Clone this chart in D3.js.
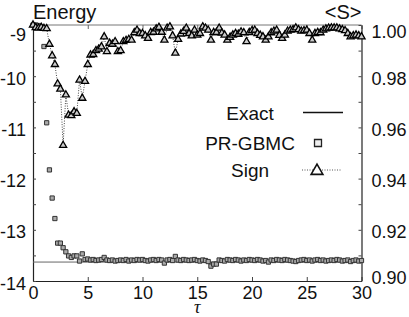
<!DOCTYPE html>
<html><head><meta charset="utf-8">
<script src="https://cdn.jsdelivr.net/npm/d3@7"></script>
<style>
html,body{margin:0;padding:0;background:#fff;}
svg{display:block;font-family:"Liberation Sans",Arial,sans-serif;}
</style></head>
<body><svg id="c" width="409" height="317"></svg>
<script>
// ---- data ----
const tau = [0,0.25,0.5,0.75,1,1.25,1.5,1.75,2,2.25,2.5,2.75,3,3.25,3.5,3.75,4,4.25,4.5,4.75,
5,5.25,5.5,5.75,6,6.25,6.5,6.75,7,7.25,7.5,7.75,8,8.25,8.5,8.75,9,9.25,9.5,9.75,
10,10.25,10.5,10.75,11,11.25,11.5,11.75,12,12.25,12.5,12.75,13,13.25,13.5,13.75,14,14.25,14.5,14.75,
15,15.25,15.5,15.75,16,16.25,16.5,16.75,17,17.25,17.5,17.75,18,18.25,18.5,18.75,19,19.25,19.5,19.75,
20,20.25,20.5,20.75,21,21.25,21.5,21.75,22,22.25,22.5,22.75,23,23.25,23.5,23.75,24,24.25,24.5,24.75,
25,25.25,25.5,25.75,26,26.25,26.5,26.75,27,27.25,27.5,27.75,28,28.25,28.5,28.75,29,29.25,29.5,29.75,30];

const energyPRGBMC = [-9.00,-9.00,-9.01,-9.04,-9.42,-10.91,-11.83,-12.38,-12.78,-13.26,-13.26,-13.35,-13.43,-13.51,-13.54,-13.51,-13.51,-13.61,-13.47,-13.58,
-13.57,-13.59,-13.58,-13.60,-13.59,-13.58,-13.54,-13.59,-13.60,-13.59,-13.61,-13.60,-13.59,-13.60,-13.58,-13.61,-13.59,-13.60,-13.58,-13.59,
-13.58,-13.60,-13.61,-13.59,-13.58,-13.60,-13.58,-13.59,-13.65,-13.59,-13.58,-13.60,-13.52,-13.59,-13.60,-13.58,-13.59,-13.60,-13.59,-13.58,
-13.60,-13.61,-13.59,-13.60,-13.62,-13.71,-13.67,-13.67,-13.59,-13.60,-13.61,-13.58,-13.59,-13.60,-13.58,-13.59,-13.61,-13.59,-13.60,-13.58,
-13.59,-13.60,-13.58,-13.59,-13.61,-13.60,-13.63,-13.59,-13.60,-13.58,-13.59,-13.60,-13.58,-13.59,-13.60,-13.61,-13.62,-13.60,-13.59,-13.58,
-13.60,-13.59,-13.61,-13.59,-13.58,-13.60,-13.59,-13.61,-13.60,-13.59,-13.60,-13.58,-13.59,-13.61,-13.60,-13.59,-13.62,-13.60,-13.59,-13.61,-13.60];

const signS = [1.0000,0.9990,0.9988,0.9991,0.9987,0.9986,0.9925,0.9880,0.9846,0.9770,0.9750,0.9530,0.9727,0.9648,0.9646,0.9661,0.9655,0.9785,0.9714,0.9780,
0.9846,0.9883,0.9885,0.9900,0.9906,0.9915,0.9954,0.9896,0.9929,0.9925,0.9935,0.9896,0.9900,0.9935,0.9940,0.9944,0.9941,0.9970,0.9980,0.9967,
0.9967,0.9958,0.9948,0.9971,0.9972,0.9985,0.9991,0.9972,0.9941,0.9988,0.9993,0.9958,0.9890,0.9944,0.9965,0.9975,0.9988,0.9967,0.9958,0.9980,
0.9961,0.9967,0.9993,0.9988,0.9980,0.9941,0.9971,0.9971,0.9988,0.9969,0.9961,0.9941,0.9952,0.9961,0.9967,0.9964,0.9973,0.9970,0.9935,0.9971,
0.9978,0.9980,0.9967,0.9960,0.9954,0.9941,0.9954,0.9970,0.9976,0.9980,0.9960,0.9948,0.9961,0.9976,0.9980,0.9982,0.9989,0.9982,0.9976,0.9978,
0.9980,0.9967,0.9941,0.9967,0.9971,0.9970,0.9980,0.9985,0.9988,0.9989,0.9989,0.9989,0.9985,0.9982,0.9978,0.9967,0.9954,0.9958,0.9961,0.9958,0.9954];

const exactEnergy = -13.63;

const xTicks = [0,5,10,15,20,25,30];
const yLeftTicks = [-14,-13.5,-13,-12.5,-12,-11.5,-11,-10.5,-10,-9.5,-9];
const yLeftLabels = [-14,-13,-12,-11,-10,-9];
const yRightTicks = [0.90,0.91,0.92,0.93,0.94,0.95,0.96,0.97,0.98,0.99,1.00];
const yRightLabels = [0.90,0.92,0.94,0.96,0.98,1.00];
const legendItems = ["Exact","PR-GBMC","Sign"];

// ---- layout ----
const L = 33, R = 361.5, T = 25, B = 281;
const svg = d3.select("#c");
const x = d3.scaleLinear().domain([0,30]).range([L,R]);
const yE = d3.scaleLinear().domain([-14,-9]).range([B,T]);
const yS = d3.scaleLinear().domain([0.90,1.00]).range([B,T]);

// frame top
svg.append("line").attr("x1",L).attr("x2",R).attr("y1",T).attr("y2",T)
  .attr("stroke","#777").attr("stroke-width",1);

// axes
function styleAxis(g){
  g.select(".domain").attr("stroke","#222").attr("stroke-width",1.2);
  g.selectAll(".tick line").attr("stroke","#444");
  g.selectAll("text").attr("fill","#111").style("font-size","18px").style("font-family","Liberation Sans, Arial, sans-serif");
}
const gB = svg.append("g").attr("transform",`translate(0,${B})`)
  .call(d3.axisBottom(x).tickValues(xTicks).tickSizeInner(-4).tickSizeOuter(0).tickPadding(5).tickFormat(d3.format("d")));
styleAxis(gB);
gB.selectAll("text").attr("dy","0.72em");

const gT = svg.append("g").attr("transform",`translate(0,${T})`)
  .call(d3.axisTop(x).tickValues(xTicks).tickSizeInner(-4).tickSizeOuter(0).tickFormat(""));
gT.select(".domain").remove();
gT.selectAll(".tick line").attr("stroke","#666");

const gL = svg.append("g").attr("transform",`translate(${L},0)`)
  .call(d3.axisLeft(yE).tickValues(yLeftTicks).tickSizeInner(-3).tickSizeOuter(0).tickPadding(7)
    .tickFormat(d => yLeftLabels.includes(d) ? String(d) : ""));
styleAxis(gL);
gL.selectAll("text").attr("dy", d => d === -9 ? "0.85em" : "0.45em");

const gR = svg.append("g").attr("transform",`translate(${R},0)`)
  .call(d3.axisRight(yS).tickValues(yRightTicks).tickSizeInner(-3).tickSizeOuter(0).tickPadding(10)
    .tickFormat(d => yRightLabels.some(v => Math.abs(v-d)<1e-9) ? d3.format(".2f")(d) : ""));
styleAxis(gR);
gR.selectAll("text").attr("dy", d => Math.abs(d-1)<1e-9 ? "0.7em" : (Math.abs(d-0.9)<1e-9 ? "0.15em" : "0.45em"));

// titles
svg.append("text").attr("x",L).attr("y",19).text("Energy")
  .style("font-size","20px").attr("fill","#111");
svg.append("text").attr("x",R).attr("y",19).attr("text-anchor","end").text("<S>")
  .style("font-size","20px").attr("fill","#111");
svg.append("text").attr("x",(L+R)/2).attr("y",312.5).attr("text-anchor","middle").text("τ")
  .style("font-size","18px").style("font-style","italic").style("font-family","Liberation Serif, serif").attr("fill","#111");

// exact line
svg.append("line").attr("x1",L).attr("x2",R).attr("y1",yE(exactEnergy)).attr("y2",yE(exactEnergy))
  .attr("stroke","#666").attr("stroke-width",1);

// PR-GBMC squares
const sq = d3.symbol().type(d3.symbolSquare).size(18);
svg.append("g").selectAll("path").data(tau.map((t,i)=>[t,energyPRGBMC[i]])).join("path")
  .attr("d",sq).attr("transform",d=>`translate(${x(d[0])},${yE(d[1])})`)
  .attr("fill","#aaa").attr("stroke","#333").attr("stroke-width",1);

// sign dotted line
const line = d3.line().x((d)=>x(d[0])).y(d=>yS(d[1]));
const sData = tau.map((t,i)=>[t,signS[i]]);
svg.append("path").datum(sData).attr("d",line).attr("fill","none")
  .attr("stroke","#444").attr("stroke-width",1).attr("stroke-dasharray","1,1.5");

// triangles
const tri = d3.symbol().type(d3.symbolTriangle).size(22);
svg.append("g").selectAll("path").data(sData).join("path")
  .attr("d",tri).attr("transform",d=>`translate(${x(d[0])},${yS(d[1])})`)
  .attr("fill","#ccc").attr("stroke","#000").attr("stroke-width",1.3);

// legend
const lg = svg.append("g");
const ly = [120,150,177];
lg.selectAll("text").data(legendItems).join("text")
  .attr("x",250).attr("y",(d,i)=>ly[i]).attr("text-anchor","middle").text(d=>d)
  .style("font-size","19px").attr("fill","#111");
lg.append("line").attr("x1",303).attr("x2",343).attr("y1",112.5).attr("y2",112.5)
  .attr("stroke","#111").attr("stroke-width",1.5);
lg.append("path").attr("d",d3.symbol().type(d3.symbolSquare).size(49)())
  .attr("transform","translate(318,143)").attr("fill","#eee").attr("stroke","#222").attr("stroke-width",1.3);
lg.append("line").attr("x1",302).attr("x2",342).attr("y1",170).attr("y2",170)
  .attr("stroke","#555").attr("stroke-width",1).attr("stroke-dasharray","1,1.5");
lg.append("path").attr("d",d3.symbol().type(d3.symbolTriangle).size(60)())
  .attr("transform","translate(317,171)").attr("fill","#fff").attr("stroke","#111").attr("stroke-width",1.6);
</script></body></html>
